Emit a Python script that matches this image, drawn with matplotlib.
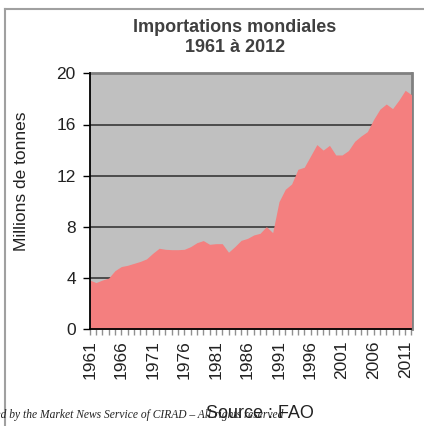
import numpy as np
import matplotlib
matplotlib.use("Agg")
import matplotlib.pyplot as plt
from matplotlib.lines import Line2D

years = list(range(1961, 2013))
imports = [3.85, 3.65, 3.85, 4.0, 4.58, 4.9, 5.0, 5.15, 5.3, 5.5,
           5.94, 6.33, 6.25, 6.22, 6.22, 6.25, 6.46, 6.77, 6.93, 6.64,
           6.69, 6.69, 6.02, 6.46, 6.95, 7.1, 7.37, 7.5, 8.02, 7.55,
           9.97, 10.94, 11.35, 12.5, 12.66, 13.54, 14.43, 14.0, 14.37, 13.62,
           13.62, 13.96, 14.69, 15.1, 15.44, 16.4, 17.2, 17.6, 17.24, 17.9,
           18.67, 18.33]
yticks = [0, 4, 8, 12, 16, 20]
xlabels = list(range(1961, 2013, 5))

plt.rcParams['font.family'] = ['Liberation Sans', 'DejaVu Sans']

W, H = 424, 426
fig = plt.figure(figsize=(W / 100, H / 100), dpi=100)
ax = fig.add_axes([89.7 / W, 1 - 329.3 / H, (411.5 - 89.7) / W, (329.3 - 73.3) / H])

ax.set_facecolor('#c0c0c0')
ax.fill_between(years, imports, 0, color='#f47f7f', lw=0, zorder=3)
for t in yticks[1:-1]:
    ax.axhline(t, color='#383838', lw=1.2, zorder=2)

ax.set_xlim(1961, 2012)
ax.set_ylim(0, 20)
ax.set_yticks(yticks)
ax.set_xticks(xlabels)
ax.set_xticks(years, minor=True)
ax.set_xticklabels([str(y) for y in xlabels], rotation=90)
ax.tick_params(axis='y', direction='out', length=5, width=1, colors='black',
               labelsize=12.5, labelcolor='#222222', pad=5)
ax.tick_params(axis='x', which='both', direction='out', length=4, width=1,
               color='#909090', labelsize=12.5, labelcolor='#222222', pad=4)

for s in ['left', 'bottom']:
    ax.spines[s].set_color('black')
    ax.spines[s].set_linewidth(1.3)
    ax.spines[s].set_zorder(5)
for s in ['top', 'right']:
    ax.spines[s].set_color('#808080')
    ax.spines[s].set_linewidth(2)

ax.set_ylabel('Millions de tonnes', fontsize=12.5, color='#222222')
ax.yaxis.set_label_coords(-0.19, 0.579)

fig.text(235 / W, 1 - 27 / H, 'Importations mondiales', ha='center', va='center',
         fontsize=13, fontweight='bold', color='#404040')
fig.text(235 / W, 1 - 48 / H, '1961 à 2012', ha='center', va='center',
         fontsize=13, fontweight='bold', color='#404040')

fig.text(283 / W, 1 - 418 / H,
         'Produced by the Market News Service of CIRAD – All rights reserved',
         ha='right', va='baseline', fontsize=8.3, style='italic',
         family=['Liberation Serif', 'DejaVu Serif'], color='#222222')
fig.text(260 / W, 1 - 418 / H, 'Source : FAO', ha='center', va='baseline',
         fontsize=13, color='#222222')

# outer frame (top and left edges visible)
fig.add_artist(Line2D([5 / W, 1], [1 - 9 / H, 1 - 9 / H], transform=fig.transFigure,
                      color='#a0a0a0', lw=1.5))
fig.add_artist(Line2D([5 / W, 5 / W], [0, 1 - 9 / H], transform=fig.transFigure,
                      color='#a0a0a0', lw=1.5))

fig.savefig('out.png', dpi=100)
